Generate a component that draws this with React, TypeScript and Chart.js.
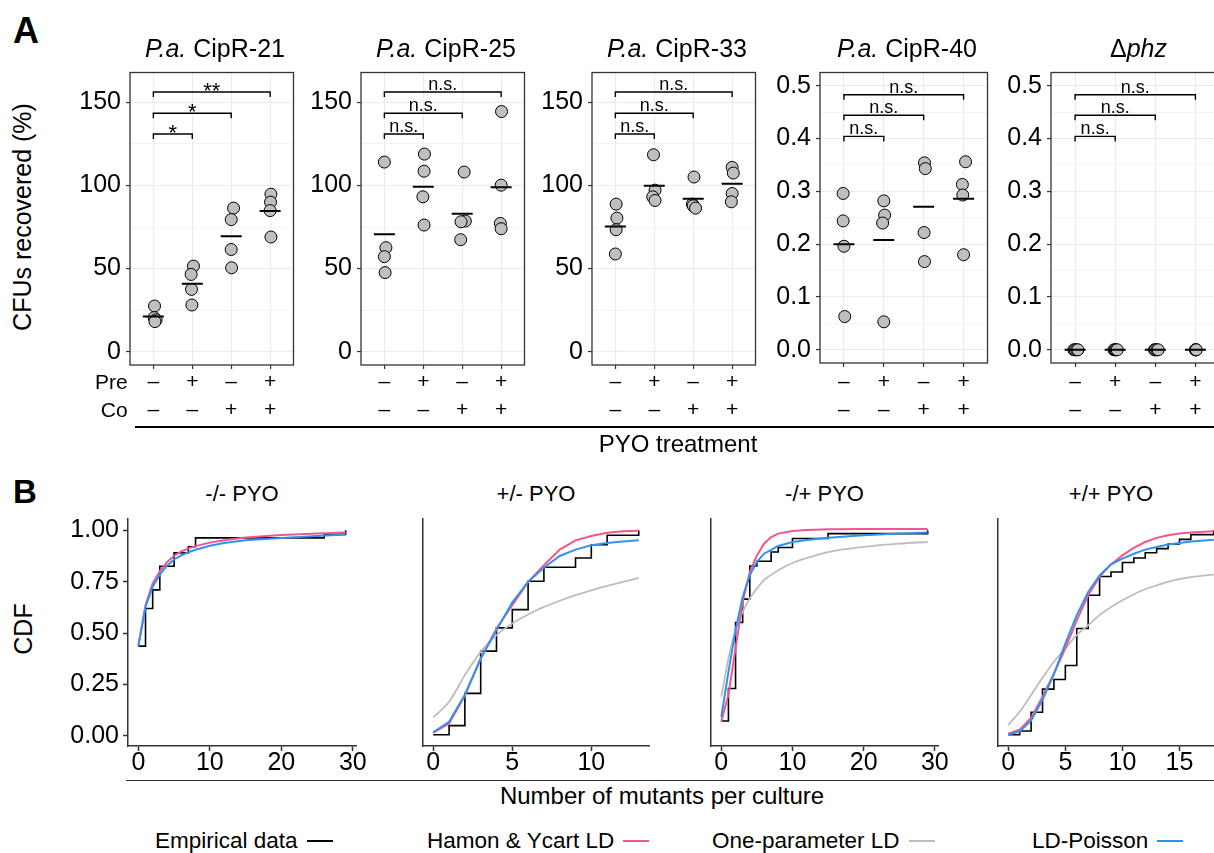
import React, { useEffect, useRef } from 'react';
import { Chart, registerables } from 'chart.js';

Chart.register(...registerables);
const FONT = '"Liberation Sans", Arial, Helvetica, sans-serif';
Chart.defaults.font.family = FONT;
Chart.defaults.color = '#000';

// ---------------- Panel A data ----------------
const treatmentCategories = [1, 2, 3, 4];
const preLabels = ['–', '+', '–', '+'];
const coLabels = ['–', '–', '+', '+'];

const cfuTicks = [0, 25, 50, 75, 100, 125, 150];
const cfuMajorTicks = [0, 50, 100, 150];
const cfuRange = [-8, 168];
const ratioTicks = [0, 0.05, 0.1, 0.15, 0.2, 0.25, 0.3, 0.35, 0.4, 0.45, 0.5];
const ratioMajorTicks = [0, 0.1, 0.2, 0.3, 0.4, 0.5];
const ratioRange = [-0.025, 0.525];

const cipr21Values = [[27.5, 20.5, 19.2, 18.1], [51.5, 46.5, 37.5, 28.1], [86.4, 79.5, 61.5, 50.5], [94.8, 90.0, 84.9, 69.0]];
const cipr21Jitter = [[0.03, 0.02, 0.07, 0.04], [0.03, -0.03, -0.02, -0.01], [0.06, 0.0, 0.0, 0.01], [0.02, 0.01, 0.0, 0.02]];
const cipr21Means = [21.2, 40.9, 69.5, 84.6];

const cipr25Values = [[114.1, 62.6, 57.2, 47.6], [118.9, 108.6, 93.2, 76.2], [108.1, 78.6, 78.2, 67.4], [144.5, 100.2, 77.2, 74.0]];
const cipr25Jitter = [[0.0, 0.04, 0.0, 0.02], [0.03, 0.02, -0.01, 0.02], [0.05, 0.08, -0.03, -0.04], [0.01, 0.0, -0.02, 0.0]];
const cipr25Means = [70.6, 99.3, 83.0, 99.0];

const cipr33Values = [[88.8, 80.4, 73.4, 58.8], [118.5, 97.2, 93.2, 91.0], [105.1, 88.8, 87.8, 86.4], [110.9, 107.5, 95.2, 90.2]];
const cipr33Jitter = [[0.02, 0.04, 0.02, 0.0], [-0.02, 0.02, -0.04, 0.02], [0.02, -0.02, 0.0, 0.06], [0.0, 0.03, 0.0, -0.02]];
const cipr33Means = [75.4, 99.9, 92.0, 101.0];

const cipr40Values = [[0.296, 0.244, 0.196, 0.063], [0.282, 0.255, 0.24, 0.053], [0.354, 0.343, 0.222, 0.167], [0.356, 0.313, 0.293, 0.18]];
const cipr40Jitter = [[-0.02, -0.02, 0.0, 0.02], [0.0, 0.02, -0.03, 0.0], [0.02, 0.04, 0.01, 0.02], [0.05, -0.03, -0.02, 0.0]];
const cipr40Means = [0.2, 0.208, 0.271, 0.286];

const phzValues = [[0, 0, 0, 0], [0, 0, 0, 0], [0, 0, 0, 0], [0, 0, 0, 0]];
const phzJitter = [[-0.03, 0.0, 0.04, 0.07], [-0.03, 0.0, 0.02, 0.05], [-0.02, 0.0, 0.04, 0.07], [0.0, 0.01, 0.01, 0.02]];
const phzMeans = [0, 0, 0, 0];

const bracketPairs = [[1, 2], [1, 3], [1, 4]];
const cfuBracketHeights = [131, 143.5, 156.3];
const ratioBracketHeights = [0.404, 0.444, 0.483];
const cipr21Signif = ['*', '*', '**'];
const nsSignif = ['n.s.', 'n.s.', 'n.s.'];

// ---------------- Panel B data ----------------
const cdfTicks = [0, 0.25, 0.5, 0.75, 1];
const cdfRange = [-0.05, 1.055];

// -/- PYO
const mmStepX = [0, 1, 2, 3, 5, 7, 8, 26, 29];
const mmStepY = [0.436, 0.619, 0.71, 0.825, 0.89, 0.92, 0.963, 0.98, 1.0];
const mmCurveX = [0, 1, 2, 3, 4, 5, 6, 7, 8, 10, 12, 15, 20, 25, 29];
const mmHamon = [0.44, 0.635, 0.742, 0.8, 0.845, 0.876, 0.897, 0.912, 0.923, 0.94, 0.952, 0.965, 0.977, 0.985, 0.989];
const mmPoisson = [0.436, 0.627, 0.725, 0.784, 0.828, 0.858, 0.878, 0.893, 0.905, 0.925, 0.938, 0.951, 0.963, 0.972, 0.979];
const mmXTicks = [0, 10, 20, 30];

// +/- PYO
const pmStepX = [0, 1, 2, 3, 4, 5, 6, 7, 9, 10, 11, 13];
const pmStepY = [0.005, 0.049, 0.206, 0.412, 0.525, 0.614, 0.752, 0.82, 0.865, 0.93, 0.976, 1.0];
const pmCurveX = [0, 1, 2, 3, 4, 5, 6, 7, 8, 9, 10, 11, 12, 13];
const pmHamon = [0.015, 0.06, 0.195, 0.375, 0.522, 0.636, 0.749, 0.83, 0.906, 0.951, 0.972, 0.988, 0.995, 0.998];
const pmOneParam = [0.089, 0.165, 0.295, 0.408, 0.49, 0.546, 0.59, 0.627, 0.657, 0.684, 0.708, 0.729, 0.749, 0.768];
const pmPoisson = [0.017, 0.068, 0.2, 0.376, 0.514, 0.649, 0.749, 0.818, 0.875, 0.906, 0.927, 0.938, 0.946, 0.951];
const pmXTicks = [0, 5, 10];

// -/+ PYO
const mpStepX = [0, 1, 2, 3, 4, 5, 7, 8, 10, 15, 29];
const mpStepY = [0.0715, 0.23, 0.551, 0.665, 0.826, 0.849, 0.894, 0.916, 0.96, 0.984, 1.0];
const mpCurveX = [0, 1, 2, 3, 4, 5, 6, 7, 8, 10, 12, 15, 20, 25, 29];
const mpHamon = [0.07, 0.2, 0.425, 0.652, 0.797, 0.878, 0.935, 0.967, 0.984, 0.997, 1.002, 1.005, 1.006, 1.006, 1.006];
const mpOneParam = [0.19, 0.376, 0.514, 0.603, 0.668, 0.716, 0.757, 0.783, 0.806, 0.841, 0.865, 0.894, 0.919, 0.935, 0.943];
const mpPoisson = [0.092, 0.311, 0.514, 0.676, 0.781, 0.846, 0.886, 0.905, 0.924, 0.943, 0.953, 0.964, 0.976, 0.984, 0.989];
const mpXTicks = [0, 10, 20, 30];

// +/+ PYO
const ppStepX = [0, 1, 2, 3, 4, 5, 6, 7, 8, 9, 10, 11, 12, 13, 14, 15, 16, 18];
const ppStepY = [0.005, 0.023, 0.114, 0.227, 0.274, 0.342, 0.522, 0.684, 0.775, 0.797, 0.843, 0.865, 0.891, 0.911, 0.933, 0.956, 0.979, 1.0];
const ppCurveX = [0, 1, 2, 3, 4, 5, 6, 7, 8, 9, 10, 11, 12, 13, 14, 15, 16, 18];
const ppHamon = [0.01, 0.029, 0.086, 0.19, 0.303, 0.425, 0.562, 0.684, 0.774, 0.834, 0.878, 0.914, 0.943, 0.963, 0.976, 0.984, 0.989, 0.995];
const ppOneParam = [0.052, 0.117, 0.198, 0.282, 0.36, 0.425, 0.49, 0.538, 0.587, 0.627, 0.659, 0.689, 0.713, 0.732, 0.749, 0.762, 0.772, 0.784];
const ppPoisson = [0.005, 0.021, 0.073, 0.175, 0.3, 0.449, 0.587, 0.7, 0.781, 0.834, 0.862, 0.886, 0.906, 0.919, 0.931, 0.938, 0.945, 0.954];
const ppXTicks = [0, 5, 10, 15];

const legendLabels = ['Empirical data', 'Hamon & Ycart LD', 'One-parameter LD', 'LD-Poisson'];
const seriesColors = ['#000000', '#F2568F', '#BDBDBD', '#2E93F0'];

// ---------------- helpers ----------------
const near = (list: number[], v: number) => list.some((m) => Math.abs(m - v) < 1e-9);

function ChartCanvas({ box, leftSpace, bottomSpace, padTop, padRight, makeConfig }: any) {
  const ref = useRef<HTMLCanvasElement | null>(null);
  const left = box[0] - leftSpace;
  const top = box[1] - padTop;
  const width = box[2] - box[0] + leftSpace + padRight;
  const height = box[3] - box[1] + padTop + bottomSpace;
  useEffect(() => {
    if (!ref.current) return;
    const chart = new Chart(ref.current, makeConfig({ leftSpace, bottomSpace, padTop, padRight }));
    return () => chart.destroy();
  }, []);
  return (
    <canvas
      ref={ref}
      width={width}
      height={height}
      style={{ position: 'absolute', left, top, width, height }}
    />
  );
}

function bracketPlugin(heights: number[], labels: string[]) {
  return {
    id: 'brackets',
    afterDatasetsDraw(chart: any) {
      const { ctx, scales } = chart;
      const x = scales.x;
      const y = scales.y;
      ctx.save();
      ctx.strokeStyle = '#000';
      ctx.fillStyle = '#000';
      ctx.lineWidth = 1.4;
      ctx.textAlign = 'center';
      ctx.textBaseline = 'alphabetic';
      bracketPairs.forEach(([a, b], i) => {
        const x1 = x.getPixelForValue(a);
        const x2 = x.getPixelForValue(b);
        const yy = y.getPixelForValue(heights[i]);
        ctx.beginPath();
        ctx.moveTo(x1, yy + 5);
        ctx.lineTo(x1, yy);
        ctx.lineTo(x2, yy);
        ctx.lineTo(x2, yy + 5);
        ctx.stroke();
        const star = labels[i].indexOf('*') >= 0;
        ctx.font = star ? `22px ${FONT}` : `18px ${FONT}`;
        ctx.fillText(labels[i], (x1 + x2) / 2, star ? yy + 6 : yy - 2);
      });
      ctx.restore();
    },
    afterDraw(chart: any) {
      const { ctx, chartArea: a } = chart;
      ctx.save();
      ctx.strokeStyle = '#333';
      ctx.lineWidth = 1.3;
      ctx.strokeRect(a.left, a.top, a.right - a.left, a.bottom - a.top);
      ctx.restore();
    },
  };
}

function makePanelA(p: any) {
  return (g: any) => {
    const pts: any[] = [];
    p.values.forEach((arr: number[], ci: number) =>
      arr.forEach((v, j) => pts.push({ x: treatmentCategories[ci] + p.jitter[ci][j], y: v }))
    );
    const means = p.means.map((m: number, ci: number) => ({ x: treatmentCategories[ci], y: m }));
    const isMajor = (v: number) => near(p.major, v);
    return {
      type: 'scatter',
      data: {
        datasets: [
          { data: means, pointStyle: 'line', pointRadius: 10.5, borderColor: '#000', borderWidth: 2, order: 0 },
          { data: pts, pointStyle: 'circle', pointRadius: 6, backgroundColor: '#bfbfbf', borderColor: '#000', borderWidth: 1, order: 1 },
        ],
      },
      options: {
        animation: false,
        responsive: false,
        events: [],
        layout: { padding: { top: g.padTop, right: g.padRight, left: 0, bottom: 0 } },
        plugins: { legend: { display: false }, tooltip: { enabled: false } },
        scales: {
          x: {
            type: 'linear',
            min: 0.4,
            max: 4.6,
            afterBuildTicks: (s: any) => { s.ticks = treatmentCategories.map((v) => ({ value: v })); },
            afterFit: (s: any) => { s.height = g.bottomSpace; s.paddingLeft = 0; s.paddingRight = 0; },
            grid: { color: '#ebebeb', lineWidth: 1.1, drawTicks: true, tickLength: 4, tickColor: '#333', tickWidth: 1.2 },
            border: { display: false },
            ticks: {
              callback: (_v: any, i: number) => [preLabels[i], coLabels[i]],
              font: { size: 21, lineHeight: '28px' },
              color: '#000',
              padding: p.xPad,
              maxRotation: 0,
              minRotation: 0,
              autoSkip: false,
            },
          },
          y: {
            type: 'linear',
            min: p.range[0],
            max: p.range[1],
            afterBuildTicks: (s: any) => { s.ticks = p.ticks.map((v: number) => ({ value: v })); },
            afterFit: (s: any) => { s.width = g.leftSpace; s.paddingTop = 0; s.paddingBottom = 0; },
            grid: {
              color: '#ebebeb',
              lineWidth: (c: any) => (c.tick && isMajor(c.tick.value) ? 1.1 : 0.6),
              tickColor: (c: any) => (c.tick && isMajor(c.tick.value) ? '#333' : 'rgba(0,0,0,0)'),
              drawTicks: true,
              tickLength: 4,
              tickWidth: 1.2,
            },
            border: { display: false },
            ticks: {
              callback: (v: number) => (isMajor(v) ? p.fmt(v) : ''),
              font: { size: 25 },
              color: '#000',
              padding: 5,
              autoSkip: false,
            },
          },
        },
      },
      plugins: [bracketPlugin(p.heights, p.signif)],
    };
  };
}

const toPts = (xs: number[], ys: number[]) => xs.map((x, i) => ({ x, y: ys[i] }));

function makePanelB(p: any) {
  return (g: any) => {
    const datasets: any[] = [
      { data: toPts(p.stepX, p.stepY), stepped: 'before', borderColor: seriesColors[0], borderWidth: 1.6, pointRadius: 0, order: 4 },
    ];
    if (p.oneParam) {
      datasets.push({ data: toPts(p.curveX, p.oneParam), borderColor: seriesColors[2], borderWidth: 1.8, pointRadius: 0, cubicInterpolationMode: 'monotone', order: 3 });
    }
    datasets.push({ data: toPts(p.curveX, p.hamon), borderColor: seriesColors[1], borderWidth: 2, pointRadius: 0, tension: 0, order: 2 });
    datasets.push({ data: toPts(p.curveX, p.poisson), borderColor: seriesColors[3], borderWidth: 2, pointRadius: 0, tension: 0, order: 1 });
    return {
      type: 'line',
      data: { datasets },
      options: {
        animation: false,
        responsive: false,
        events: [],
        layout: { padding: { top: g.padTop, right: g.padRight, left: 0, bottom: 0 } },
        plugins: { legend: { display: false }, tooltip: { enabled: false } },
        scales: {
          x: {
            type: 'linear',
            min: p.xRange[0],
            max: p.xRange[1],
            afterBuildTicks: (s: any) => { s.ticks = p.xTicks.map((v: number) => ({ value: v })); },
            afterFit: (s: any) => { s.height = g.bottomSpace; s.paddingLeft = 0; s.paddingRight = 0; },
            grid: { display: true, drawOnChartArea: false, drawTicks: true, tickLength: 5, tickColor: '#333', tickWidth: 1.5 },
            border: { display: true, color: '#333', width: 1.5 },
            ticks: { callback: (v: number) => String(v), font: { size: 25, lineHeight: '25px' }, color: '#000', padding: 0, maxRotation: 0, minRotation: 0, autoSkip: false },
          },
          y: {
            type: 'linear',
            min: cdfRange[0],
            max: cdfRange[1],
            afterBuildTicks: (s: any) => { s.ticks = cdfTicks.map((v) => ({ value: v })); },
            afterFit: (s: any) => { s.width = g.leftSpace; s.paddingTop = 0; s.paddingBottom = 0; },
            grid: { display: p.showY, drawOnChartArea: false, drawTicks: true, tickLength: 5, tickColor: '#333', tickWidth: 1.5 },
            border: { display: true, color: '#333', width: 1.5 },
            ticks: { display: p.showY, callback: (v: number) => v.toFixed(2), font: { size: 25 }, color: '#000', padding: 4, autoSkip: false },
          },
        },
      },
    };
  };
}

// ---------------- panel specs (layout) ----------------
const fmtInt = (v: number) => String(v);
const fmt1 = (v: number) => v.toFixed(1);

const panelsA = [
  { title: [['P.a.', true], [' CipR-21', false]], values: cipr21Values, jitter: cipr21Jitter, means: cipr21Means, ticks: cfuTicks, major: cfuMajorTicks, range: cfuRange, fmt: fmtInt, heights: cfuBracketHeights, signif: cipr21Signif, box: [130, 70, 300, 365], leftSpace: 70, padTop: 10, bottomSpace: 65, xPad: -1 },
  { title: [['P.a.', true], [' CipR-25', false]], values: cipr25Values, jitter: cipr25Jitter, means: cipr25Means, ticks: cfuTicks, major: cfuMajorTicks, range: cfuRange, fmt: fmtInt, heights: cfuBracketHeights, signif: nsSignif, box: [361, 70, 531, 365], leftSpace: 60, padTop: 10, bottomSpace: 65, xPad: -1 },
  { title: [['P.a.', true], [' CipR-33', false]], values: cipr33Values, jitter: cipr33Jitter, means: cipr33Means, ticks: cfuTicks, major: cfuMajorTicks, range: cfuRange, fmt: fmtInt, heights: cfuBracketHeights, signif: nsSignif, box: [592, 70, 762, 365], leftSpace: 56, padTop: 10, bottomSpace: 65, xPad: -1 },
  { title: [['P.a.', true], [' CipR-40', false]], values: cipr40Values, jitter: cipr40Jitter, means: cipr40Means, ticks: ratioTicks, major: ratioMajorTicks, range: ratioRange, fmt: fmt1, heights: ratioBracketHeights, signif: nsSignif, box: [820, 69, 994, 363], leftSpace: 52, padTop: 9, bottomSpace: 67, xPad: 1 },
  { title: [['Δ', false], ['phz', true]], values: phzValues, jitter: phzJitter, means: phzMeans, ticks: ratioTicks, major: ratioMajorTicks, range: ratioRange, fmt: fmt1, heights: ratioBracketHeights, signif: nsSignif, box: [1051, 69, 1226, 363], leftSpace: 52, padTop: 9, bottomSpace: 67, xPad: 1 },
];

const panelsB = [
  { title: '-/- PYO', stepX: mmStepX, stepY: mmStepY, curveX: mmCurveX, hamon: mmHamon, oneParam: null, poisson: mmPoisson, xTicks: mmXTicks, xRange: [-1.45, 30.45], showY: true, box: [128, 519, 356, 746], leftSpace: 78 },
  { title: '+/- PYO', stepX: pmStepX, stepY: pmStepY, curveX: pmCurveX, hamon: pmHamon, oneParam: pmOneParam, poisson: pmPoisson, xTicks: pmXTicks, xRange: [-0.65, 13.65], showY: false, box: [423, 519, 649, 746], leftSpace: 10 },
  { title: '-/+ PYO', stepX: mpStepX, stepY: mpStepY, curveX: mpCurveX, hamon: mpHamon, oneParam: mpOneParam, poisson: mpPoisson, xTicks: mpXTicks, xRange: [-1.45, 30.45], showY: false, box: [711, 519, 938, 746], leftSpace: 10 },
  { title: '+/+ PYO', stepX: ppStepX, stepY: ppStepY, curveX: ppCurveX, hamon: ppHamon, oneParam: ppOneParam, poisson: ppPoisson, xTicks: ppXTicks, xRange: [-0.9, 18.9], showY: false, box: [998, 519, 1224, 746], leftSpace: 10 },
];

const legendX = [155, 427, 712, 1032];

// ---------------- text helpers ----------------
function Txt({ x, y, size, align = 'left', weight = 400, children }: any) {
  const top = y - 0.8465 * size;
  const tx = align === 'center' ? '-50%' : align === 'right' ? '-100%' : '0';
  return (
    <div
      style={{
        position: 'absolute',
        left: x,
        top,
        fontSize: size,
        lineHeight: `${size}px`,
        fontWeight: weight,
        whiteSpace: 'nowrap',
        transform: `translateX(${tx})`,
      }}
    >
      {children}
    </div>
  );
}

function VTxt({ cx, cy, size, children }: any) {
  return (
    <div
      style={{
        position: 'absolute',
        left: cx,
        top: cy,
        fontSize: size,
        lineHeight: `${size}px`,
        whiteSpace: 'nowrap',
        transform: 'translate(-50%, -50%) rotate(-90deg)',
      }}
    >
      {children}
    </div>
  );
}

export default function App() {
  return (
    <div
      style={{
        position: 'fixed',
        left: 0,
        top: 0,
        width: 1214,
        height: 853,
        overflow: 'hidden',
        background: '#fff',
        fontFamily: FONT,
        color: '#000',
      }}
    >
      <Txt x={13} y={43.3} size={36} weight={700}>A</Txt>
      <Txt x={13} y={502.7} size={33} weight={700}>B</Txt>

      {panelsA.map((p, i) => (
        <ChartCanvas
          key={'a' + i}
          box={p.box}
          leftSpace={p.leftSpace}
          bottomSpace={p.bottomSpace}
          padTop={p.padTop}
          padRight={6}
          makeConfig={makePanelA(p)}
        />
      ))}
      {panelsA.map((p, i) => (
        <Txt key={'at' + i} x={(p.box[0] + p.box[2]) / 2} y={57.3} size={25} align="center">
          {p.title.map((part: any, k: number) =>
            part[1] ? <i key={k}>{part[0]}</i> : <span key={k}>{part[0]}</span>
          )}
        </Txt>
      ))}

      <VTxt cx={22} cy={216.5} size={25}>CFUs recovered (%)</VTxt>
      <Txt x={127.7} y={388.5} size={21} align="right">Pre</Txt>
      <Txt x={127.7} y={416.7} size={21} align="right">Co</Txt>
      <div style={{ position: 'absolute', left: 135, top: 426, width: 1100, height: 2, background: '#000' }} />
      <Txt x={678} y={452} size={24} align="center">PYO treatment</Txt>

      {panelsB.map((p, i) => (
        <ChartCanvas
          key={'b' + i}
          box={p.box}
          leftSpace={p.leftSpace}
          bottomSpace={32}
          padTop={9}
          padRight={16}
          makeConfig={makePanelB(p)}
        />
      ))}
      {panelsB.map((p, i) => (
        <Txt key={'bt' + i} x={(p.box[0] + p.box[2]) / 2} y={501.7} size={22} align="center">{p.title}</Txt>
      ))}
      <VTxt cx={23.3} cy={629} size={25}>CDF</VTxt>
      <div style={{ position: 'absolute', left: 126, top: 780, width: 1100, height: 1.4, background: '#333' }} />
      <Txt x={662} y={804} size={24} align="center">Number of mutants per culture</Txt>

      {legendLabels.map((t, i) => (
        <div
          key={'lg' + i}
          style={{
            position: 'absolute',
            left: legendX[i],
            top: 849 - 0.8465 * 22.5,
            fontSize: 22.5,
            lineHeight: '22.5px',
            whiteSpace: 'nowrap',
            display: 'flex',
            alignItems: 'center',
          }}
        >
          <span>{t}</span>
          <span style={{ display: 'inline-block', width: 26, height: 2, background: seriesColors[i], marginLeft: 9 }} />
        </div>
      ))}
    </div>
  );
}
